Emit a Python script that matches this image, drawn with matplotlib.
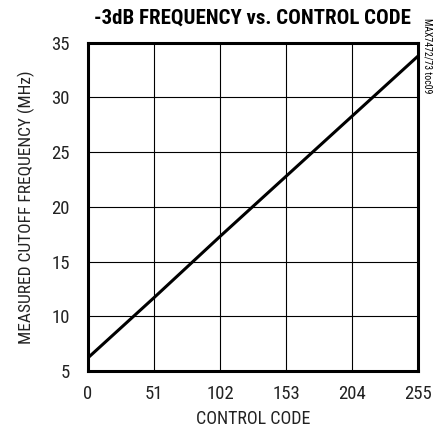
import matplotlib
matplotlib.use("Agg")
import matplotlib.pyplot as plt

code = [0, 51, 102, 153, 204, 255]
freq = [6.2, 11.7, 17.3, 22.8, 28.3, 33.8]
xticks = [0, 51, 102, 153, 204, 255]
yticks = [5, 10, 15, 20, 25, 30, 35]

plt.rcParams['font.family'] = ['Roboto Condensed', 'Archivo Narrow', 'DejaVu Sans']

fig = plt.figure(figsize=(4.37, 4.32), dpi=100)
ax = fig.add_axes([0.201, 0.141, 0.756, 0.760])
ax.plot(code, freq, color='black', lw=2.2, solid_capstyle='butt')
ax.set_xlim(0, 255)
ax.set_ylim(5, 35)
ax.set_xticks(xticks)
ax.set_yticks(yticks)
ax.grid(True, color='black', lw=0.8)
ax.tick_params(length=0, labelsize=13.5, colors='#222222')
ax.tick_params(axis='x', pad=10)
ax.tick_params(axis='y', pad=13)
for s in ax.spines.values():
    s.set_linewidth(2.2)
ax.set_xlabel('CONTROL CODE', fontsize=13, color='#222222', labelpad=5)
ax.set_ylabel('MEASURED CUTOFF FREQUENCY (MHz)', fontsize=12.5, color='#222222', labelpad=12)
fig.text(0.577, 0.958, '-3dB FREQUENCY vs. CONTROL CODE', ha='center', va='center',
         fontsize=15, fontweight='bold')
fig.text(0.979, 0.87, 'MAX7472/73 toc09', rotation=270, ha='center', va='center', fontsize=7)
fig.savefig('out.png', dpi=100)
